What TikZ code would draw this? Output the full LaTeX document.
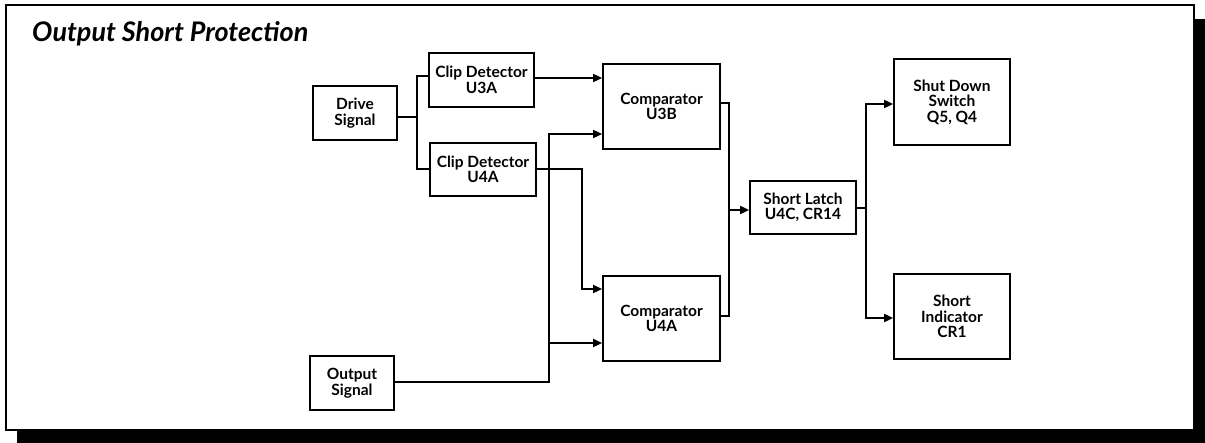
\documentclass[tikz,border=0pt]{standalone}
\usepackage{fontspec}
\setmainfont{Lato}
\usetikzlibrary{arrows.meta}
\begin{document}
\begin{tikzpicture}[x=1pt,y=-1pt,
  blk/.style={draw, line width=1.7pt, inner sep=0pt, align=center,
    font=\fontsize{15.5}{15.5}\selectfont\bfseries},
  wire/.style={line width=1.7pt},
  arr/.style={line width=1.7pt, -{Triangle[length=9pt,width=8pt]}}]
\useasboundingbox (0,0) rectangle (1205,443);
\fill[black] (17,19) rectangle (1205,443);
\draw[line width=2.2pt, fill=white] (6,5) rectangle (1194,430);
\node[anchor=base west, inner sep=0pt, font=\fontsize{27}{28}\selectfont\bfseries\itshape] (title) at (32,42) {Output Short Protection};

\node[blk, minimum width=84pt, minimum height=54pt] (drive) at (355,113) {Drive\\Signal};
\node[blk, minimum width=105pt, minimum height=54pt] (clipA) at (481.5,80) {Clip Detector\\U3A};
\node[blk, minimum width=106pt, minimum height=53pt] (clipB) at (483,169.5) {Clip Detector\\U4A};
\node[blk, minimum width=117pt, minimum height=85pt] (cmpB) at (661.5,106.5) {Comparator\\U3B};
\node[blk, minimum width=117pt, minimum height=85pt] (cmpA) at (661.5,318.5) {Comparator\\U4A};
\node[blk, minimum width=84pt, minimum height=54pt] (out) at (352,383) {Output\\Signal};
\node[blk, minimum width=106pt, minimum height=53pt] (latch) at (803,207.5) {Short Latch\\U4C, CR14};
\node[blk, minimum width=116pt, minimum height=86pt] (shut) at (952,102) {Shut Down\\Switch\\Q5, Q4};
\node[blk, minimum width=116pt, minimum height=85pt] (ind) at (952,316.5) {Short\\Indicator\\CR1};

\coordinate (j1) at (417,117);
\draw[wire] (drive.east |- j1) -- (j1);
\draw[wire] (clipA.west |- 0,76) -| (417,169) -- (clipB.west |- 0,169);
\draw[arr] (clipA.east |- 0,78) -- (cmpB.west |- 0,78);
\draw[arr] (clipB.east |- 0,169) -| (582,289) -- (cmpA.west |- 0,289);
\coordinate (j2) at (549,343);
\draw[arr] (out.east |- 0,382) -| (549,134) -- (cmpB.west |- 0,134);
\draw[arr] (j2) -- (cmpA.west |- j2);
\draw[wire] (cmpB.east |- 0,103) -| (729,316) -- (cmpA.east |- 0,316);
\coordinate (j3) at (729,210);
\draw[arr] (j3) -- (latch.west |- j3);
\coordinate (j4) at (866,208);
\draw[wire] (latch.east |- j4) -- (j4);
\draw[arr] (j4) |- (shut.west |- 0,104);
\draw[arr] (j4) |- (ind.west |- 0,318);
\end{tikzpicture}
\end{document}
